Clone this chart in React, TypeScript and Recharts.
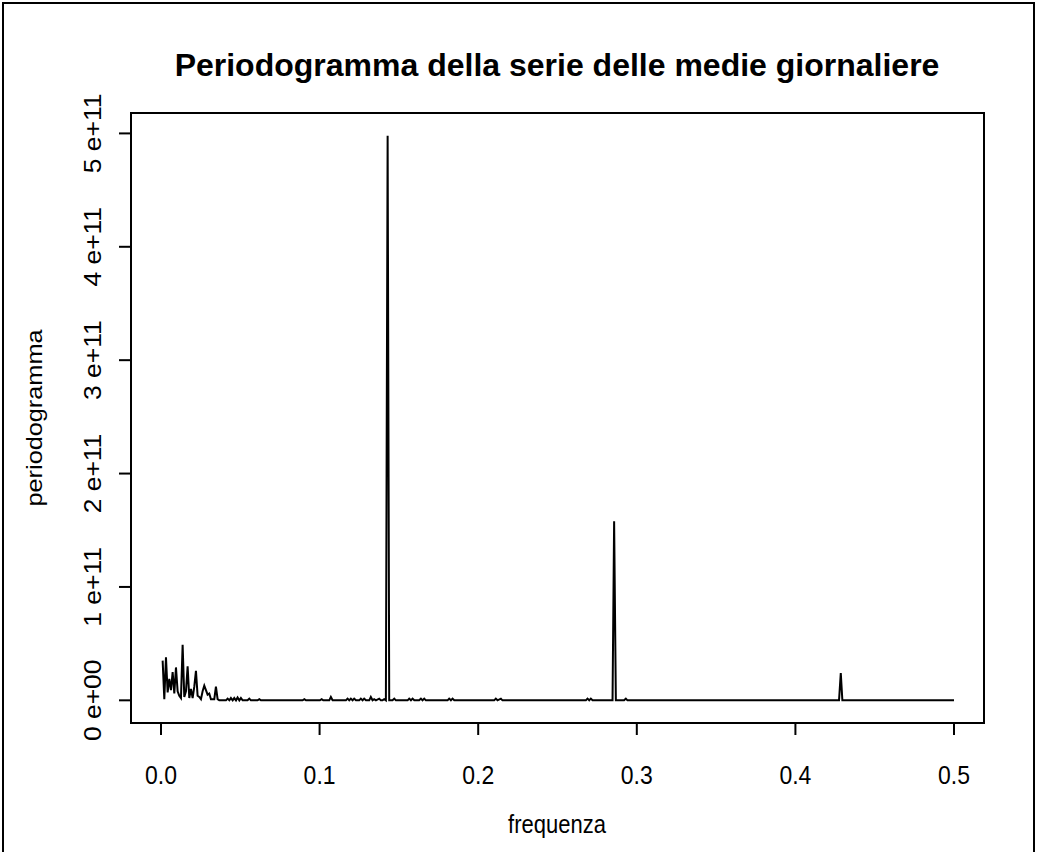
import React from "react";
import { LineChart, Line, XAxis, YAxis, ReferenceArea } from "recharts";

// frequency (cycles per day) and periodogram value (units of 1e11)
const freq: number[] = [
  0.00105, 0.0021, 0.00315, 0.0042, 0.00525, 0.0063, 0.00735, 0.0084, 0.00945, 0.0105,
  0.01155, 0.0126, 0.01365, 0.0147, 0.01575, 0.0168, 0.01785, 0.0189, 0.01995, 0.021,
  0.02205, 0.0231, 0.02415, 0.0252, 0.02625, 0.0273, 0.02835, 0.0294, 0.03045, 0.0315,
  0.03255, 0.0336, 0.03465, 0.0357, 0.03675,
  0.041, 0.042, 0.0431, 0.0441, 0.0452, 0.0462, 0.0473, 0.0483, 0.0494, 0.0504, 0.0515,
  0.0546, 0.0557, 0.0567, 0.0609, 0.062, 0.063,
  0.0893, 0.0904, 0.0914, 0.1002, 0.1013, 0.1023, 0.1061, 0.1071, 0.1082,
  0.1166, 0.1176, 0.1187, 0.1197, 0.1208, 0.1218, 0.1229, 0.125, 0.126, 0.1271, 0.1281, 0.1292,
  0.1313, 0.1323, 0.1334, 0.1344, 0.1355, 0.1376, 0.1386, 0.1397, 0.1407, 0.1418,
  0.1429, 0.1439, 0.146, 0.1471, 0.1481,
  0.1555, 0.1565, 0.1576, 0.1586, 0.1597, 0.1628, 0.1639, 0.1649, 0.166, 0.167,
  0.1807, 0.1817, 0.1828, 0.1838, 0.1849, 0.2101, 0.2111, 0.2122, 0.2143, 0.2153,
  0.2679, 0.2689, 0.27, 0.271, 0.2721, 0.2847, 0.2857, 0.2868, 0.292, 0.2931, 0.2941,
  0.4275, 0.4286, 0.4296, 0.5,
];
const power: number[] = [
  0.35, 0.01, 0.38, 0.07, 0.19, 0.09, 0.25, 0.06, 0.29, 0.08,
  0.04, 0.02, 0.49, 0.03, 0.08, 0.3, 0.02, 0.1, 0.02, 0.12,
  0.26, 0.04, 0.03, 0.01, 0.08, 0.13, 0.09, 0.05, 0.06, 0.01,
  0.01, 0.01, 0.12, 0.01, 0.0,
  0.0, 0.015, 0.0, 0.02, 0.0, 0.02, 0.0, 0.025, 0.0, 0.02, 0.0,
  0.0, 0.015, 0.0, 0.0, 0.01, 0.0,
  0.0, 0.01, 0.0, 0.0, 0.01, 0.0, 0.0, 0.03, 0.0,
  0.0, 0.015, 0.0, 0.015, 0.0, 0.015, 0.0, 0.0, 0.015, 0.0, 0.015, 0.0,
  0.0, 0.03, 0.0, 0.01, 0.0, 0.015, 0.0, 0.0, 0.01, 0.0,
  4.98, 0.0, 0.0, 0.015, 0.0,
  0.0, 0.015, 0.0, 0.015, 0.0, 0.0, 0.015, 0.0, 0.015, 0.0,
  0.0, 0.015, 0.0, 0.015, 0.0, 0.0, 0.015, 0.0, 0.015, 0.0,
  0.0, 0.015, 0.0, 0.015, 0.0, 0.0, 1.58, 0.0, 0.0, 0.015, 0.0,
  0.0, 0.24, 0.0, 0.0,
];
const xTicks: number[] = [0, 0.1, 0.2, 0.3, 0.4, 0.5];
const xTickLabels: string[] = ["0.0", "0.1", "0.2", "0.3", "0.4", "0.5"];
const yTicks: number[] = [0, 1, 2, 3, 4, 5];
const yTickLabels: string[] = ["0 e+00", "1 e+11", "2 e+11", "3 e+11", "4 e+11", "5 e+11"];

const title = "Periodogramma della serie delle medie giornaliere";
const xTitle = "frequenza";
const yTitle = "periodogramma";

const data = freq.map((f, i) => ({ f, p: power[i] }));

const FONT = '"Liberation Sans", Arial, Helvetica, sans-serif';
const STRETCH = 1.15;
const X_DOMAIN: [number, number] = [-0.0189, 0.5189];
const Y_DOMAIN: [number, number] = [-0.2, 5.18];

const XTick = (props: any) => {
  const { x, y, payload } = props;
  const idx = xTicks.indexOf(payload.value);
  return (
    <text
      transform={`translate(${x}, ${y + 19}) scale(1, ${STRETCH})`}
      textAnchor="middle"
      fontSize={23}
      fontFamily={FONT}
      fill="#000"
    >
      {idx >= 0 ? xTickLabels[idx] : ""}
    </text>
  );
};

const YTick = (props: any) => {
  const { x, y, payload } = props;
  const idx = yTicks.indexOf(payload.value);
  return (
    <text
      transform={`translate(${x}, ${y}) scale(1, ${STRETCH}) rotate(-90)`}
      textAnchor="middle"
      fontSize={23}
      fontFamily={FONT}
      fill="#000"
    >
      {idx >= 0 ? yTickLabels[idx] : ""}
    </text>
  );
};

export default function App() {
  return (
    <div style={{ position: "absolute", left: 0, top: 0, width: 1038, height: 852, background: "#fff" }}>
      <LineChart
        width={1038}
        height={852}
        data={data}
        margin={{ top: 113, right: 54, bottom: 0, left: 0 }}
      >
        <XAxis
          dataKey="f"
          type="number"
          domain={X_DOMAIN}
          ticks={xTicks}
          allowDataOverflow
          axisLine={false}
          tickLine={{ stroke: "#000", strokeWidth: 2 }}
          tickSize={12}
          tickMargin={30}
          height={129}
          tick={<XTick />}
        />
        <YAxis
          type="number"
          domain={Y_DOMAIN}
          ticks={yTicks}
          allowDataOverflow
          axisLine={false}
          tickLine={{ stroke: "#000", strokeWidth: 2 }}
          tickSize={12}
          tickMargin={18}
          width={131}
          tick={<YTick />}
        />
        <ReferenceArea
          x1={X_DOMAIN[0]}
          x2={X_DOMAIN[1]}
          y1={Y_DOMAIN[0]}
          y2={Y_DOMAIN[1]}
          fill="none"
          fillOpacity={0}
          stroke="#000"
          strokeWidth={2}
          ifOverflow="visible"
        />
        <Line
          dataKey="p"
          type="linear"
          stroke="#000"
          strokeWidth={2}
          dot={false}
          isAnimationActive={false}
        />
      </LineChart>
      <svg
        width={1038}
        height={852}
        style={{ position: "absolute", left: 0, top: 0, pointerEvents: "none" }}
      >
        <path d="M3,852 L3,3 L1034,3 L1034,852" fill="none" stroke="#000" strokeWidth={2} />
        <text x={557} y={76} textAnchor="middle" fontSize={32} fontWeight="bold" fontFamily={FONT} fill="#000">
          {title}
        </text>
        <text
          transform={`translate(557, 833) scale(1, ${STRETCH})`}
          textAnchor="middle"
          fontSize={22}
          fontFamily={FONT}
          fill="#000"
        >
          {xTitle}
        </text>
        <text
          transform={`translate(42, 418) scale(1, ${STRETCH}) rotate(-90)`}
          textAnchor="middle"
          fontSize={22}
          fontFamily={FONT}
          fill="#000"
        >
          {yTitle}
        </text>
      </svg>
    </div>
  );
}
